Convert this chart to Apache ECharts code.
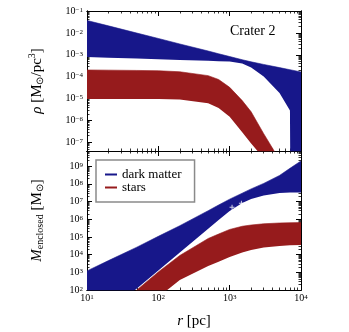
<!DOCTYPE html>
<html><head><meta charset="utf-8">
<script src="https://cdn.jsdelivr.net/npm/echarts@6/dist/echarts.min.js"></script>
<style>html,body{margin:0;padding:0;background:#fff}#c{width:349px;height:332px}</style>
</head><body><div id="c"></div><script>
// ---- data ----
const radius   = [10,20,50,100,200,500,700,1000,1500,2000,3000,5000,7000,10000];          // pc
const radiusDM = [10,20,50,100,200,500,700,1000,1500,2000,3000,5000,7000,7100,10000];     // pc
// density [Msun/pc^3]
const rhoDMHigh   = [3.68e-2,2.09e-2,9.8e-3,5.55e-3,3.11e-3,1.48e-3,1.11e-3,8.28e-4,5.92e-4,4.74e-4,3.61e-4,2.58e-4,2.07e-4,2.04e-4,1.64e-4];
const rhoDMLow    = [7.9e-4,7.3e-4,6.7e-4,6.2e-4,5.8e-4,5.3e-4,5.1e-4,4.9e-4,4.0e-4,2.6e-4,1.02e-4,1.8e-5,2.8e-6,1e-9,1e-9];
const rhoStarHigh = [2.02e-4,1.98e-4,1.92e-4,1.86e-4,1.67e-4,1.11e-4,7.4e-5,3.24e-5,8.0e-6,2.47e-6,2.47e-7,1.58e-8,2.5e-9,4e-10];
const rhoStarLow  = [9.5e-6,9.5e-6,9.5e-6,9.5e-6,9.1e-6,6.1e-6,3.7e-6,1.45e-6,2.9e-7,8.8e-8,1.86e-8,1.6e-9,6.3e-10,2.5e-10];
// enclosed mass [Msun]
const massDMHigh   = [1.20e3,4.57e3,2.63e4,1.07e5,4.27e5,3.02e6,6.31e6,1.35e7,2.95e7,5.13e7,1.05e8,2.95e8,7.41e8,1.95e9];
const massDMLow    = [0.55,5.71,122,1.26e3,1.32e4,2.88e5,9.02e5,2.88e6,8.32e6,1.38e7,2.19e7,3.02e7,3.24e7,3.24e7];
const massStarHigh = [0.44,4.57,100,1.05e3,8.91e3,8.13e4,1.45e5,2.63e5,3.98e5,4.68e5,5.50e5,6.10e5,6.31e5,6.46e5];
const massStarLow  = [0.0158,0.17,3.89,39.8,367,2.29e3,3.98e3,7.24e3,1.32e4,1.82e4,2.51e4,3.09e4,3.35e4,3.47e4];
// "+" markers
const markerR = [1080,1460];
const markerM = [4.7e6,7.9e6];
// tick decades (exponents)
const xTickExp = [1,2,3,4];
const yTopTickExp = [-7,-6,-5,-4,-3,-2,-1];
const yBotTickExp = [2,3,4,5,6,7,8,9];
const seriesNames = ['dark matter','stars'];
const panelLabel = 'Crater 2';

// ---- styling ----
const FONT = 'Liberation Serif';
const BLUE = '#17178a', RED = '#961b1c';
const lg = Math.log10;
const X_RANGE = [1,4], YT_RANGE = [-7.4,-1], YB_RANGE = [2,9.85];

function minorTicks(range){
  const out=[];
  for(let n=Math.floor(range[0])-1;n<=Math.ceil(range[1]);n++)
    for(let k=2;k<=9;k++){const v=n+lg(k); if(v>range[0]&&v<range[1]) out.push(v);}
  return out;
}
function expStr(n){return n<0?'\u2212'+Math.abs(n):String(n);}
const tickRich = {
  b:{fontFamily:FONT,fontSize:10,lineHeight:11,padding:[3,0,3,0],color:'#000'},
  s:{fontFamily:FONT,fontSize:7,lineHeight:8,padding:[1,0,0,0],verticalAlign:'top',color:'#000'}
};
const tickFmt = v => '{b|10}{s|'+expStr(Math.round(v))+'}';

function axesFor(dim, gridIndex, range, majors, showLabels, sides, extra){
  const res=[]; const minors=minorTicks(range);
  sides.forEach(pos=>{
    res.push(Object.assign({
      type:'value', gridIndex, position:pos, min:range[0], max:range[1],
      splitLine:{show:false},
      axisLine:{show:true,onZero:false,lineStyle:{color:'#000',width:1}},
      axisTick:{show:true,inside:true,length:5,customValues:majors,lineStyle:{color:'#000',width:1}},
      axisLabel:{show:showLabels && (pos==='left'||pos==='bottom'),customValues:majors,
        showMinLabel:true,showMaxLabel:true,formatter:tickFmt,rich:tickRich,margin:dim==='x'?3:4}
    }, (pos==='left'||pos==='bottom')?extra:{}));
    res.push({
      type:'value', gridIndex, position:pos, min:range[0], max:range[1],
      splitLine:{show:false},
      axisLine:{show:true,onZero:false,lineStyle:{color:'#000',width:1}},
      axisTick:{show:true,inside:true,length:2.5,customValues:minors,lineStyle:{color:'#000',width:0.8}},
      axisLabel:{show:false}
    });
  });
  return res;
}

const nameStyle = ()=>({fontFamily:FONT,fontSize:15,color:'#000',lineHeight:18,
  rich:{
    i:{fontFamily:FONT,fontStyle:'italic',fontSize:15,lineHeight:18,color:'#000'},
    n:{fontFamily:FONT,fontSize:15,lineHeight:18,color:'#000'},
    sub:{fontFamily:FONT,fontSize:10,lineHeight:18,padding:[6,0,0,0],color:'#000'},
    sup:{fontFamily:FONT,fontSize:10,lineHeight:18,padding:[0,0,10,0],color:'#000'}
  }});

// x axes: grid0 -> 0..3 (bottom main, bottom minor, top main, top minor); grid1 -> 4..7
const xAxes = [
  ...axesFor('x',0,X_RANGE,xTickExp,false,['bottom','top'],{}),
  ...axesFor('x',1,X_RANGE,xTickExp,true,['bottom','top'],{
     name:'{i|r} {n|[pc]}', nameLocation:'middle', nameGap:22, nameTextStyle:nameStyle()})
];
const yAxes = [
  ...axesFor('y',0,YT_RANGE,yTopTickExp,true,['left','right'],{
     name:'{i|\u03c1} {n|[M}{sub|\u2299}{n|/pc}{sup|3}{n|]}', nameLocation:'middle', nameGap:41, nameRotate:90, nameTextStyle:nameStyle()}),
  ...axesFor('y',1,YB_RANGE,yBotTickExp,true,['left','right'],{
     name:'{i|M}{sub|enclosed} {n|[M}{sub|\u2299}{n|]}', nameLocation:'middle', nameGap:41, nameRotate:90, nameTextStyle:nameStyle()})
];

// stacked band: lower edge (invisible) + thickness (filled); data given as [y, x] so y is the stacked dim
function band(rArr, lo, hi, key, name, color, xi, yi){
  const common = {type:'line', stack:key, stackStrategy:'all', xAxisIndex:xi, yAxisIndex:yi,
    encode:{x:1,y:0}, symbol:'none', smooth:false, silent:true, animation:false, clip:true};
  return [
    Object.assign({}, common, {name:key+'_lo', data:rArr.map((r,i)=>[lg(lo[i]),lg(r)]),
      lineStyle:{opacity:0}, itemStyle:{color}}),
    Object.assign({}, common, {name, data:rArr.map((r,i)=>[lg(hi[i])-lg(lo[i]),lg(r)]),
      color, itemStyle:{color}, lineStyle:{color,width:0.6}, areaStyle:{color,opacity:1}})
  ];
}

const series = [
  ...band(radiusDM, rhoDMLow, rhoDMHigh, 'dmTop', seriesNames[0], BLUE, 0, 0),
  ...band(radius, rhoStarLow, rhoStarHigh, 'stTop', seriesNames[1], RED, 0, 0),
  ...band(radius, massDMLow, massDMHigh, 'dmBot', seriesNames[0], BLUE, 4, 4),
  ...band(radius, massStarLow, massStarHigh, 'stBot', seriesNames[1], RED, 4, 4),
  {type:'scatter', name:'points', xAxisIndex:4, yAxisIndex:4, silent:true, animation:false,
   symbol:'path://M2,0H3V2H5V3H3V5H2V3H0V2H2Z', symbolSize:5,
   itemStyle:{color:'#fff'}, z:5,
   data:markerR.map((r,i)=>[lg(r),lg(markerM[i])])}
];

const chart = echarts.init(document.getElementById('c'), null, {renderer:'canvas'});
chart.setOption({
  animation:false,
  backgroundColor:'#fff',
  grid:[
    {left:87, top:11, width:214, height:140, containLabel:false},
    {left:87, top:151, width:214, height:139, containLabel:false}
  ],
  title:{text:panelLabel, left:230, top:24, padding:0,
    textStyle:{fontFamily:FONT, fontSize:14, fontWeight:'normal', color:'#000'}},
  legend:{
    data:seriesNames.map(n=>({name:n, icon:'rect'})),
    orient:'vertical', left:96, top:160, padding:[8,13,8,9], itemGap:0,
    itemWidth:12, itemHeight:2, itemTextGap:6, selectedMode:false,
    borderColor:'#8a8a8a', borderWidth:1.5, backgroundColor:'#fff',
    textStyle:{fontFamily:FONT, fontSize:13, lineHeight:13, color:'#000'}
  },
  xAxis:xAxes,
  yAxis:yAxes,
  series
});
</script></body></html>
